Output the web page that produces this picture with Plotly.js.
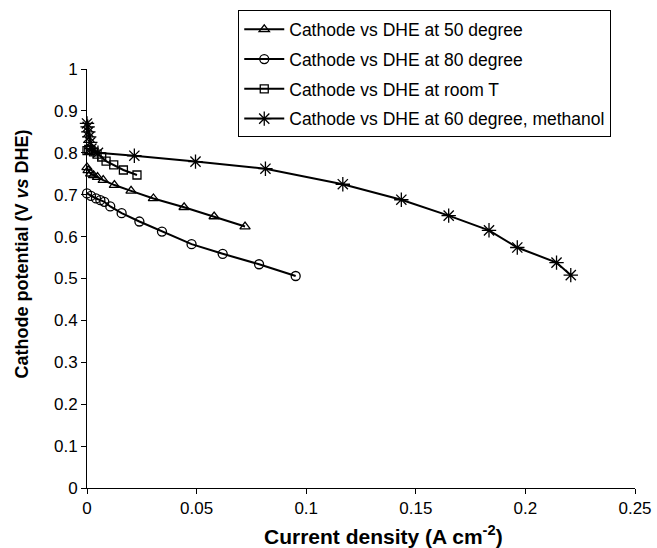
<!DOCTYPE html>
<html>
<head>
<meta charset="utf-8">
<script src="https://cdn.plot.ly/plotly-3.0.1.min.js"></script>
<style>html,body{margin:0;padding:0;background:#fff;}#chart{width:657px;height:548px;}</style>
</head>
<body>
<div id="chart"></div>
<script>
// Series names
const seriesNames = [
  "Cathode vs DHE at 50 degree",
  "Cathode vs DHE at 80 degree",
  "Cathode vs DHE at room T",
  "Cathode vs DHE at 60 degree, methanol"
];

// Titles
const xTitle = "<b>Current density (A cm<sup>-2</sup>)</b>";
const yTitle = "<b>Cathode potential (V <i>vs</i> DHE)</b>";

// 50 degree (triangles)
const x50 = [0, 0.0005, 0.0017, 0.003, 0.0048, 0.0074, 0.0125, 0.0201, 0.0303, 0.0443, 0.058, 0.0721];
const y50 = [0.765, 0.758, 0.750, 0.746, 0.742, 0.735, 0.723, 0.709, 0.691, 0.670, 0.648, 0.624];

// 80 degree (circles)
const x80 = [0, 0.0018, 0.0041, 0.0061, 0.0079, 0.0106, 0.0158, 0.0239, 0.0342, 0.0477, 0.0619, 0.0785, 0.0952];
const y80 = [0.703, 0.697, 0.691, 0.687, 0.683, 0.672, 0.656, 0.636, 0.612, 0.582, 0.559, 0.534, 0.506];

// room T (squares)
const xRoom = [0, 0.0008, 0.0018, 0.003, 0.0046, 0.0067, 0.0087, 0.0122, 0.0166, 0.0228];
const yRoom = [0.805, 0.808, 0.806, 0.802, 0.797, 0.790, 0.780, 0.771, 0.759, 0.747];

// 60 degree methanol (stars)
const xMeOH = [0, 0.0003, 0.0006, 0.001, 0.0015, 0.002, 0.005, 0.0216, 0.0495, 0.0814, 0.1167, 0.1434, 0.165, 0.1834, 0.1963, 0.2142, 0.2207];
const yMeOH = [0.870, 0.862, 0.850, 0.838, 0.825, 0.810, 0.800, 0.793, 0.779, 0.762, 0.725, 0.688, 0.650, 0.615, 0.574, 0.538, 0.508];

// Axis ticks
const xTicks = [0, 0.05, 0.1, 0.15, 0.2, 0.25];
const xTickText = ["0", "0.05", "0.1", "0.15", "0.2", "0.25"];
const yTicks = [0, 0.1, 0.2, 0.3, 0.4, 0.5, 0.6, 0.7, 0.8, 0.9, 1];
const yTickText = ["0", "0.1", "0.2", "0.3", "0.4", "0.5", "0.6", "0.7", "0.8", "0.9", "1"];

const symbols = ["triangle-up-open", "circle-open", "square-open", "asterisk-open"];
const sizes = [9, 9, 8, 12];
const xs = [x50, x80, xRoom, xMeOH];
const ys = [y50, y80, yRoom, yMeOH];

const FONT = "Arial, 'Liberation Sans', sans-serif";

const traces = xs.map((x, i) => ({
  type: "scatter",
  mode: "lines+markers",
  x: x,
  y: ys[i],
  name: seriesNames[i],
  legendgroup: "g" + i,
  cliponaxis: false,
  line: {color: "#000", width: 2},
  marker: {symbol: symbols[i], size: sizes[i], color: "#000", line: {color: "#000", width: 1.3}}
}));

const layout = {
  width: 657,
  height: 548,
  paper_bgcolor: "#fff",
  plot_bgcolor: "#fff",
  margin: {l: 87, r: 22, t: 68, b: 60},
  font: {family: FONT, color: "#000", size: 17},
  showlegend: true,
  legend: {
    x: 0.276, y: 1.137, xanchor: "left", yanchor: "top",
    bordercolor: "#000", borderwidth: 1, bgcolor: "#fff",
    font: {family: FONT, size: 17.5, color: "#000"},
    itemwidth: 40,
    traceorder: "grouped", tracegroupgap: 4
  },
  xaxis: {
    range: [0, 0.25],
    tickvals: xTicks, ticktext: xTickText,
    ticks: "outside", ticklen: 5, tickcolor: "#000", tickwidth: 1,
    showline: true, linecolor: "#000", linewidth: 1,
    showgrid: false, zeroline: false,
    tickfont: {family: FONT, size: 17, color: "#000"}
  },
  yaxis: {
    range: [0, 1],
    tickvals: yTicks, ticktext: yTickText,
    ticks: "outside", ticklen: 5, tickcolor: "#000", tickwidth: 1,
    showline: true, linecolor: "#000", linewidth: 1,
    showgrid: false, zeroline: false,
    tickfont: {family: FONT, size: 17, color: "#000"}
  },
  annotations: [
    {text: xTitle, xref: "paper", yref: "paper",
     x: (383 - 87) / 548, y: -(535 - 488) / 420, xanchor: "center", yanchor: "middle",
     showarrow: false, font: {family: FONT, size: 21, color: "#000"}},
    {text: yTitle, xref: "paper", yref: "paper", textangle: -90,
     x: -(87 - 22) / 548, y: (488 - 254) / 420, xanchor: "center", yanchor: "middle",
     showarrow: false, font: {family: FONT, size: 18, color: "#000"}}
  ]
};

Plotly.newPlot("chart", traces, layout, {displayModeBar: false, staticPlot: true});
</script>
</body>
</html>
